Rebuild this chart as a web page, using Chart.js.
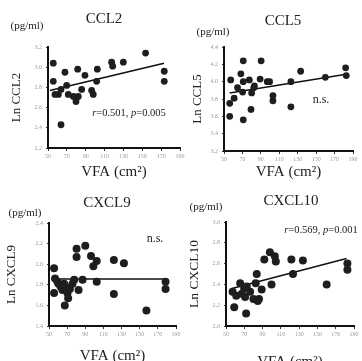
<!DOCTYPE html>
<html>
<head>
<meta charset="utf-8">
<script src="https://cdn.jsdelivr.net/npm/chart.js@4.4.1/dist/chart.umd.min.js"></script>
<style>
html, body { margin: 0; padding: 0; background: #fff; overflow: hidden; }
#page { position: relative; width: 362px; height: 361px; overflow: hidden; font-family: "Liberation Serif", "DejaVu Serif", serif; color: #222; }
canvas { position: absolute; left: 0; top: 0; }
.t { position: absolute; white-space: nowrap; transform: translate(-50%, -50%); line-height: 1; }
</style>
</head>
<body>
<div id="page">
  <canvas id="c1" width="362" height="400"></canvas>
  <canvas id="c2" width="362" height="400"></canvas>
  <canvas id="c3" width="362" height="400"></canvas>
  <canvas id="c4" width="362" height="400"></canvas>

  <div class="t" style="left:104px;top:18px;font-size:15px">CCL2</div>
  <div class="t" style="left:27px;top:25px;font-size:11px">(pg/ml)</div>
  <div class="t" style="left:129px;top:113px;font-size:10.5px"><i>r</i>=0.501, <i>p</i>=0.005</div>

  <div class="t" style="left:283px;top:20px;font-size:15px">CCL5</div>
  <div class="t" style="left:213px;top:31px;font-size:11px">(pg/ml)</div>
  <div class="t" style="left:321px;top:99px;font-size:12px">n.s.</div>

  <div class="t" style="left:107px;top:202px;font-size:15px">CXCL9</div>
  <div class="t" style="left:25px;top:212px;font-size:11px">(pg/ml)</div>
  <div class="t" style="left:155px;top:238px;font-size:12px">n.s.</div>

  <div class="t" style="left:291px;top:200px;font-size:15px">CXCL10</div>
  <div class="t" style="left:206px;top:206px;font-size:11px">(pg/ml)</div>
  <div class="t" style="left:321px;top:230px;font-size:10.5px"><i>r</i>=0.569, <i>p</i>=0.001</div>
</div>

<script>
// x axis (VFA, cm2)
const xTicks = [50, 70, 90, 110, 130, 150, 170, 190];

// CCL2
const vfaCCL2 = [55.6, 55.6, 57.4, 61, 63.8, 63.8, 68, 69.8, 71.5, 76.9, 79.7, 82.1, 85.7, 81.5, 89.2, 96.3, 98, 101.6, 102.3, 117.5, 118.6, 129.9, 153.5, 173.3, 173.3];
const lnCCL2 = [3.04, 2.86, 2.73, 2.73, 2.78, 2.43, 2.95, 2.82, 2.73, 2.71, 2.66, 2.71, 2.78, 2.98, 2.92, 2.77, 2.73, 2.86, 2.98, 3.05, 3.01, 3.05, 3.14, 2.96, 2.86];
const fitCCL2X = [52, 173];
const fitCCL2Y = [2.77, 3.04];
const yTicksCCL2 = [2.2, 3.2];

// CCL5
const vfaCCL5 = [56.2, 56.2, 57.3, 61, 64.7, 68.3, 70.2, 70.9, 70.9, 70.9, 77.5, 79.3, 80, 82.3, 83, 90.3, 89.2, 96.9, 99.5, 103.1, 103.1, 122.6, 122.6, 133.2, 160, 182, 182.7];
const lnCCL5 = [3.75, 3.60, 4.02, 3.81, 3.93, 4.09, 3.88, 4.24, 4.00, 3.56, 4.02, 3.68, 3.87, 3.93, 3.95, 4.24, 4.03, 4.00, 4.00, 3.84, 3.78, 3.71, 4.00, 4.12, 4.05, 4.16, 4.07];
const fitCCL5X = [56.2, 182.7];
const fitCCL5Y = [3.87, 4.085];
const yTicksCCL5 = [3.2, 4.4];

// CXCL9
const vfaCXCL9 = [55.6, 55.6, 56.7, 59.3, 60.4, 63, 64.8, 66.7, 68.5, 70.4, 71.1, 67.4, 73, 75.9, 77.8, 80.4, 80.4, 82.6, 87, 90, 96.3, 98.9, 102.6, 102.6, 121.5, 121.5, 132.6, 157.4, 178.5, 178.5];
const lnCXCL9 = [1.96, 1.72, 1.86, 1.83, 1.81, 1.78, 1.75, 1.81, 1.78, 1.72, 1.67, 1.60, 1.76, 1.81, 1.85, 2.15, 2.07, 1.75, 1.85, 2.18, 2.08, 1.98, 2.03, 1.83, 2.04, 1.71, 2.01, 1.55, 1.83, 1.76];
const fitCXCL9X = [52.6, 179.6];
const fitCXCL9Y = [1.856, 1.856];
const yTicksCXCL9 = [1.4, 2.4];

// CXCL10
const vfaCXCL10 = [57.2, 59, 61.2, 65.5, 67.3, 69.9, 70.9, 72, 72.7, 76.4, 80, 82.5, 83.6, 84.7, 86.1, 89, 91.9, 98, 99.8, 103.4, 104.5, 121.5, 123.3, 134.1, 160.1, 182.8, 182.8];
const lnCXCL10 = [2.33, 2.18, 2.29, 2.41, 2.31, 2.36, 2.28, 2.12, 2.38, 2.33, 2.26, 2.41, 2.50, 2.24, 2.26, 2.35, 2.64, 2.71, 2.40, 2.67, 2.62, 2.64, 2.50, 2.63, 2.40, 2.60, 2.54];
const fitCXCL10X = [56.5, 181.8];
const fitCXCL10Y = [2.36, 2.65];
const yTicksCXCL10 = [2.0, 3.0];

const W = 362, H = 400;
const serif = '"Liberation Serif", "DejaVu Serif", serif';

function pairs(xs, ys) {
  return xs.map((x, i) => ({ x: x, y: ys[i] }));
}

// box = plot area in page pixels, plus where the axis titles sit
function makePanel(id, xs, ys, fx, fy, yRange, yTitle, box) {
  const yLh = box.yFont * 1.2, xLh = 15 * 1.2;
  const padLeft = box.yTitleX - yLh / 2;
  const xBottom = box.xTitleY + xLh / 2;
  new Chart(document.getElementById(id), {
    type: "scatter",
    data: {
      datasets: [
        {
          data: pairs(xs, ys),
          backgroundColor: "#1e1e1e",
          borderWidth: 0,
          pointRadius: box.r,
        },
        {
          type: "line",
          data: pairs(fx, fy),
          borderColor: "#111",
          borderWidth: 1.6,
          pointRadius: 0,
          fill: false,
        },
      ],
    },
    options: {
      responsive: false,
      animation: false,
      events: [],
      layout: {
        padding: { left: padLeft, top: box.top, right: W - box.right, bottom: H - xBottom },
      },
      plugins: { legend: { display: false }, tooltip: { enabled: false } },
      scales: {
        x: {
          type: "linear",
          min: xTicks[0],
          max: xTicks[xTicks.length - 1],
          afterBuildTicks: (s) => { s.ticks = xTicks.map((v) => ({ value: v })); },
          afterFit: (s) => { s.height = xBottom - box.bottom; s.paddingLeft = 0; s.paddingRight = 0; },
          border: { display: true, color: "#111", width: 2 },
          grid: { drawOnChartArea: false, drawTicks: true, tickLength: 3, color: "#333" },
          ticks: { color: "#9a9a9a", font: { size: 6, family: serif }, padding: 2, maxRotation: 0, autoSkip: false },
          title: { display: true, text: "VFA (cm²)", color: "#222", font: { size: 15, family: serif }, padding: 0 },
        },
        y: {
          min: yRange[0],
          max: yRange[1],
          afterFit: (s) => { s.width = box.left - padLeft; s.paddingTop = 0; s.paddingBottom = 0; },
          border: { display: true, color: "#111", width: 2 },
          grid: { drawOnChartArea: false, drawTicks: true, tickLength: 2, color: "#333" },
          ticks: { stepSize: 0.2, color: "#9a9a9a", font: { size: 6, family: serif }, padding: 4, callback: (v) => v.toFixed(1) },
          title: { display: true, text: yTitle, color: "#222", font: { size: box.yFont, family: serif }, padding: 0 },
        },
      },
    },
  });
}

makePanel("c1", vfaCCL2, lnCCL2, fitCCL2X, fitCCL2Y, yTicksCCL2, "Ln CCL2",
  { left: 48, top: 47, right: 180, bottom: 148, yTitleX: 17, xTitleY: 172, yFont: 13, r: 3.4 });
makePanel("c2", vfaCCL5, lnCCL5, fitCCL5X, fitCCL5Y, yTicksCCL5, "Ln CCL5",
  { left: 224, top: 47, right: 353, bottom: 151, yTitleX: 198, xTitleY: 172, yFont: 13, r: 3.4 });
makePanel("c3", vfaCXCL9, lnCXCL9, fitCXCL9X, fitCXCL9Y, yTicksCXCL9, "Ln CXCL9",
  { left: 49, top: 223, right: 176, bottom: 326, yTitleX: 12, xTitleY: 356, yFont: 13, r: 4 });
makePanel("c4", vfaCXCL10, lnCXCL10, fitCXCL10X, fitCXCL10Y, yTicksCXCL10, "Ln CXCL10",
  { left: 226, top: 222, right: 354, bottom: 326, yTitleX: 194, xTitleY: 362, yFont: 13.5, r: 4 });
</script>
</body>
</html>
